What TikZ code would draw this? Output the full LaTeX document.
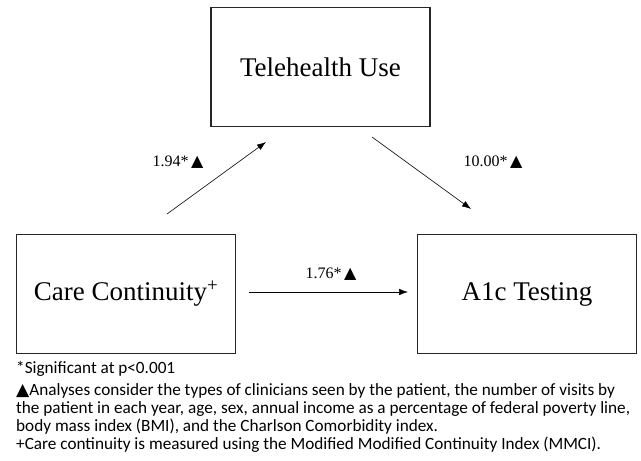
\documentclass[tikz,border=0pt]{standalone}
\usepackage{fontspec}
\setmainfont{Liberation Serif}
\newfontfamily\notefont{Carlito}
\newfontfamily\symfont{DejaVu Sans}
\usetikzlibrary{arrows.meta}
\newcommand{\tri}{{\symfont ▲}}
\tikzset{
	box/.style={draw=black!85, line width=1.3pt, minimum width=219pt, minimum height=119pt, inner sep=0pt, font=\fontsize{27}{30}\selectfont},
	lbl/.style={inner sep=0pt, font=\fontsize{16}{18}\selectfont},
	path/.style={line width=0.6pt, ->, >={Latex[length=9pt,width=6.5pt]}}
}
\begin{document}
\begin{tikzpicture}[x=1pt,y=-1pt]
		\useasboundingbox (0,0) rectangle (641,461);
		\node[box] (tele) at (320.5,67){Telehealth Use};
		\node[box] (care) at (126,294){Care Continuity\textsuperscript{+}};
		\node[box] (aonec) at (527,294){A1c Testing};
		% free ends of the paths
		\coordinate (a1s) at (167,214);
		\coordinate (a1e) at (266,142);
		\coordinate (a2s) at (372,137);
		\coordinate (a2e) at (471,209);
		\coordinate (a3s) at (249,292);
		\coordinate (a3e) at (408,292);
		\draw[path](a1s) -- (a1e);
		\draw[path](a2s) -- (a2e);
		\draw[path](a3s) -- (a3e);
		\node[lbl] (l1) at (178,162){1.94*\,\tri};
		\node[lbl] (l2) at (493,162){10.00*\,\tri};
		\node[lbl] (l3) at (331,274){1.76*\,\tri};
		\node[anchor=north west, inner sep=0pt, align=left, font=\notefont\fontsize{17.2}{18}\selectfont] (note) at (16,361){*Significant at p<0.001\\[4pt]
			{\symfont ▲}Analyses consider the types of clinicians seen by the patient, the number of visits by\\
			the patient in each year, age, sex, annual income as a percentage of federal poverty line,\\
			body mass index (BMI), and the Charlson Comorbidity index.\\
			+Care continuity is measured using the Modified Modified Continuity Index (MMCI).};
	\end{tikzpicture}
\end{document}
